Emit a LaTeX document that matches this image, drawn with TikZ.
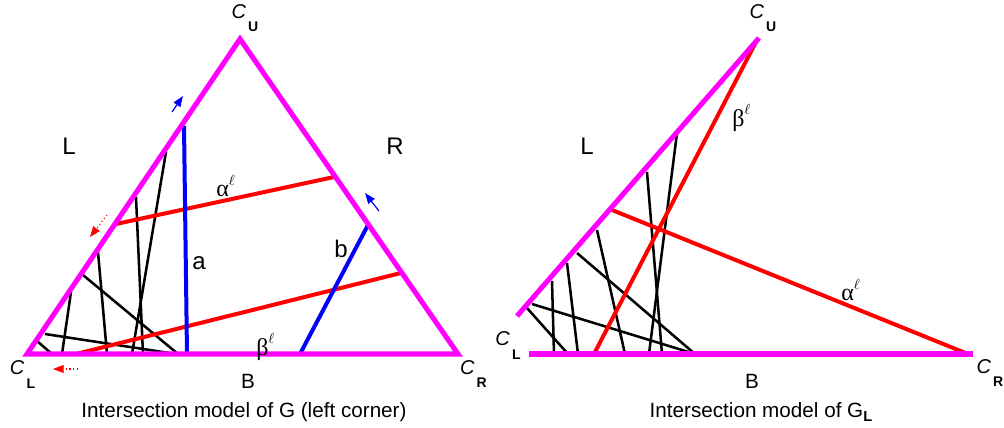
\documentclass[tikz,border=0pt]{standalone}
\usepackage{fontspec}
\setmainfont{Liberation Sans}
\newfontfamily\griega{Liberation Serif}
\usetikzlibrary{arrows.meta}
\definecolor{lila}{RGB}{255,0,255}

% Etiqueta de esquina C con subindice
\newcommand{\esquina}[1]{\textit{C}\hspace{1.5pt}\raisebox{-1.3ex}{\fontsize{10.5}{11}\selectfont\bfseries #1}}
\newcommand{\cuerdalabel}[1]{{\griega #1}\raisebox{0.9ex}{\fontsize{11}{12}\selectfont$\ell$}}

\tikzset{
	borde/.style={draw=lila, line width=3.8pt},
	cuerda/.style={draw=black, line width=1.9pt},
	roja/.style={draw=red, line width=3pt},
	azul/.style={draw=blue, line width=3pt},
	flechaazul/.style={draw=blue, line width=0.9pt, -{Triangle[length=8pt,width=6pt]}},
	flecharoja/.style={draw=red, line width=0.8pt, dotted, -{Triangle[length=8pt,width=6pt]}},
	grande/.style={inner sep=0pt, font=\fontsize{18}{20}\selectfont},
	media/.style={inner sep=0pt, font=\fontsize{15.5}{18}\selectfont},
	esq/.style={inner sep=0pt, font=\fontsize{15}{17}\selectfont}
}

\begin{document}
\begin{tikzpicture}[x=0.75pt, y=-0.75pt]
	\useasboundingbox (0,0) rectangle (1004,428);
	
	% Triangulo izquierdo
	\coordinate (CL) at (27,354);
	\coordinate (CU) at (240,39);
	\coordinate (CR) at (458,354);
	
	% Cuerdas negras
	\draw[cuerda] (83,275) -- (178,354);
	\draw[cuerda] (98,252) -- (107,354);
	\draw[cuerda] (71,292) -- (62,354);
	\draw[cuerda] (45,334) -- (176,354);
	\draw[cuerda] (37,341) -- (52,354);
	\draw[cuerda] (136,197) -- (143,354);
	\draw[cuerda] (166,152) -- (132,354);
	
	% Cuerdas rojas y azules
	\draw[roja] (116,224) -- (334,177);
	\draw[roja] (76,354) -- (401,273);
	\draw[azul] (184,126) -- (187,354);
	\draw[azul] (300,354) -- (368,225);
	
	\draw[borde] (CL) -- (CU) -- (CR) -- cycle;
	
	% Flechas
	\draw[flechaazul] (172,112) -- (183,96);
	\draw[flechaazul] (379,211) -- (365,193);
	\draw[flecharoja] (107,215) -- (90,237);
	\draw[flecharoja] (78,369) -- (53,369);
	
	% Etiquetas
	\node[esq] (etCU) at (245,18) {\esquina{U}};
	\node[esq] (etCL) at (22.5,374.5) {\esquina{L}};
	\node[esq] (etCR) at (473.5,374) {\esquina{R}};
	\node[grande] (etL) at (69,146) {L};
	\node[grande] (etR) at (395,146) {R};
	\node[grande] (eta) at (199,263) {a};
	\node[grande] (etb) at (341,249) {b};
	\node[media] (etB) at (248,381) {B};
	\node[grande, anchor=west] (etalfa) at (216,186) {\cuerdalabel{α}};
	\node[grande, anchor=west] (etbeta) at (256,347) {\cuerdalabel{β}};
	\node[media, anchor=base] (titulo) at (244,417) {Intersection model of G (left corner)};
	
	% Triangulo derecho
	\coordinate (DL) at (517,316);
	\coordinate (DU) at (759,38);
	\coordinate (DB) at (529,354);
	\coordinate (DR) at (973,354);
	
	% Cuerdas negras
	\draw[cuerda] (677,133) -- (649,354);
	\draw[cuerda] (647,172) -- (662,354);
	\draw[cuerda] (597,230) -- (625,354);
	\draw[cuerda] (577,253) -- (695,354);
	\draw[cuerda] (567,263) -- (578,354);
	\draw[cuerda] (552,281) -- (554,354);
	\draw[cuerda] (532,304) -- (695,354);
	\draw[cuerda] (527,308) -- (568,354);
	
	% Cuerdas rojas
	\draw[roja] (757,40) -- (594,354);
	\draw[roja] (612,210) -- (968,354);
	
	\draw[borde] (DL) -- (DU);
	\draw[borde] (DB) -- (DR);
	
	% Etiquetas
	\node[esq] (etDU) at (763,18) {\esquina{U}};
	\node[esq] (etDL) at (508,345.5) {\esquina{L}};
	\node[esq] (etDR) at (990,373) {\esquina{R}};
	\node[grande] (etDLL) at (587,146) {L};
	\node[media] (etDB) at (752,381) {B};
	\node[grande, anchor=west] (etDbeta) at (732,118) {\cuerdalabel{β}};
	\node[grande, anchor=west] (etDalfa) at (841,290) {\cuerdalabel{α}};
	\node[media, anchor=base] (tituloD) at (761,417) {Intersection model of G\raisebox{-0.4ex}{\fontsize{11}{12}\selectfont\bfseries L}};
	
\end{tikzpicture}
\end{document}
